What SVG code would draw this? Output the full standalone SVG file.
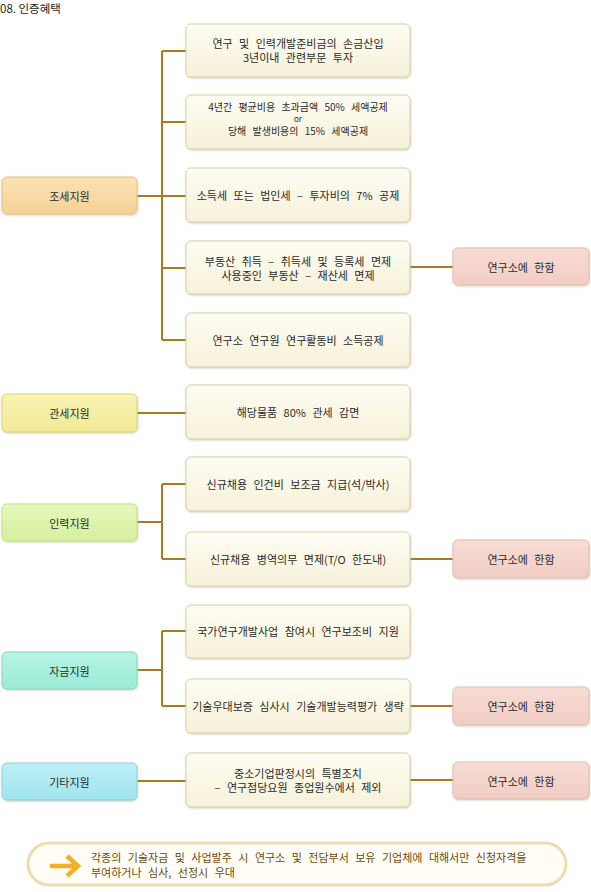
<svg xmlns="http://www.w3.org/2000/svg" width="591" height="892" viewBox="0 0 591 892">
<defs>
<linearGradient id="gMid" x1="0" y1="0" x2="0" y2="1"><stop offset="0" stop-color="#fefdf3"/><stop offset="1" stop-color="#f6f1d9"/></linearGradient>
<linearGradient id="gTax" x1="0" y1="0" x2="0" y2="1"><stop offset="0" stop-color="#fbe2b3"/><stop offset="1" stop-color="#f5d296"/></linearGradient>
<linearGradient id="gCus" x1="0" y1="0" x2="0" y2="1"><stop offset="0" stop-color="#f9f3b5"/><stop offset="1" stop-color="#f2ea95"/></linearGradient>
<linearGradient id="gHum" x1="0" y1="0" x2="0" y2="1"><stop offset="0" stop-color="#e6f8bd"/><stop offset="1" stop-color="#d5f09d"/></linearGradient>
<linearGradient id="gFund" x1="0" y1="0" x2="0" y2="1"><stop offset="0" stop-color="#b6f4e4"/><stop offset="1" stop-color="#9aebd6"/></linearGradient>
<linearGradient id="gEtc" x1="0" y1="0" x2="0" y2="1"><stop offset="0" stop-color="#bdf0f6"/><stop offset="1" stop-color="#a0e4ee"/></linearGradient>
<linearGradient id="gPink" x1="0" y1="0" x2="0" y2="1"><stop offset="0" stop-color="#f8dcd4"/><stop offset="1" stop-color="#f1cdc3"/></linearGradient>
<filter id="sh" x="-5%" y="-10%" width="110%" height="125%"><feDropShadow dx="0.5" dy="1" stdDeviation="0.8" flood-color="#a89c70" flood-opacity="0.45"/></filter>
</defs>
<style>
text{font-family:"Noto Sans CJK KR","Liberation Sans",sans-serif;font-size:11px;fill:#2a2a2a;text-anchor:middle;dominant-baseline:central;word-spacing:4px}
.mid{fill:url(#gMid);stroke:#d8d0b0;stroke-width:1;filter:url(#sh)}
.left{stroke-width:1;filter:url(#sh)}
.pink{fill:url(#gPink);stroke:#e2bdb3;stroke-width:1;filter:url(#sh)}
.con{stroke:#a87c1c;stroke-width:2;fill:none}
.title{text-anchor:start;font-size:11.5px;fill:#222;word-spacing:0}
.note{text-anchor:start;fill:#6e4a08}
.sm{font-size:10px}
.or{font-size:8px}
</style>
<text class="title" x="0" y="8">08. 인증혜택</text>

<g id="connectors">
<path class="con" d="M137 196 H186 M162 51 V340 M162 51 H186 M162 122 H186 M162 268 H186 M162 340 H186"/>
<path class="con" d="M410 267 H453"/>
<path class="con" d="M137 413 H186"/>
<path class="con" d="M137 522 H162 M162 484 V559 M162 484 H186 M162 559 H186 M410 559 H453"/>
<path class="con" d="M137 670 H162 M162 631 V706 M162 631 H186 M162 706 H186 M410 706 H453"/>
<path class="con" d="M137 781 H186 M410 780 H453"/>
</g>

<g id="n-tax"><rect class="left" x="2" y="177" width="135" height="37" rx="5" fill="url(#gTax)" stroke="#e6c486"/><text x="69.5" y="196">조세지원</text></g>
<g id="n-customs"><rect class="left" x="2" y="394" width="135" height="38" rx="5" fill="url(#gCus)" stroke="#dcd47e"/><text x="69.5" y="413">관세지원</text></g>
<g id="n-human"><rect class="left" x="2" y="504" width="135" height="37" rx="5" fill="url(#gHum)" stroke="#c2de8a"/><text x="69.5" y="522.5">인력지원</text></g>
<g id="n-fund"><rect class="left" x="2" y="652" width="135" height="37" rx="5" fill="url(#gFund)" stroke="#86d8c2"/><text x="69.5" y="670.5">자금지원</text></g>
<g id="n-etc"><rect class="left" x="2" y="763" width="135" height="37" rx="5" fill="url(#gEtc)" stroke="#8ed2dc"/><text x="69.5" y="781.5">기타지원</text></g>

<g id="m1"><rect class="mid" x="186" y="24" width="224" height="53" rx="5"/><text x="298" y="42.5">연구 및 인력개발준비금의 손금산입</text><text x="298" y="57">3년이내 관련부문 투자</text></g>
<g id="m2"><rect class="mid" x="186" y="95" width="224" height="54" rx="5"/><text class="sm" x="298" y="106">4년간 평균비용 초과금액 50% 세액공제</text><text class="or" x="298" y="118">or</text><text class="sm" x="298" y="130.5">당해 발생비용의 15% 세액공제</text></g>
<g id="m3"><rect class="mid" x="186" y="168" width="224" height="54" rx="5"/><text x="298" y="195">소득세 또는 법인세 – 투자비의 7% 공제</text></g>
<g id="m4"><rect class="mid" x="186" y="241" width="224" height="53" rx="5"/><text x="298" y="260.5">부동산 취득 – 취득세 및 등록세 면제</text><text x="298" y="275">사용중인 부동산 – 재산세 면제</text></g>
<g id="m5"><rect class="mid" x="186" y="313" width="224" height="54" rx="5"/><text x="298" y="340">연구소 연구원 연구활동비 소득공제</text></g>
<g id="m6"><rect class="mid" x="186" y="385" width="224" height="54" rx="5"/><text x="298" y="412">해당물품 80% 관세 감면</text></g>
<g id="m7"><rect class="mid" x="186" y="457" width="224" height="54" rx="5"/><text x="298" y="484">신규채용 인건비 보조금 지급(석/박사)</text></g>
<g id="m8"><rect class="mid" x="186" y="532" width="224" height="54" rx="5"/><text x="298" y="559">신규채용 병역의무 면제(T/O 한도내)</text></g>
<g id="m9"><rect class="mid" x="186" y="605" width="224" height="53" rx="5"/><text x="298" y="631">국가연구개발사업 참여시 연구보조비 지원</text></g>
<g id="m10"><rect class="mid" x="186" y="679" width="224" height="54" rx="5"/><text x="298" y="706">기술우대보증 심사시 기술개발능력평가 생략</text></g>
<g id="m11"><rect class="mid" x="186" y="753" width="224" height="54" rx="5"/><text x="298" y="772.5">중소기업판정시의 특별조치</text><text x="298" y="787">– 연구점당요원 종업원수에서 제외</text></g>

<g id="p1"><rect class="pink" x="453" y="248" width="136" height="37" rx="5"/><text x="521" y="266.5">연구소에 한함</text></g>
<g id="p2"><rect class="pink" x="453" y="540" width="136" height="38" rx="5"/><text x="521" y="559">연구소에 한함</text></g>
<g id="p3"><rect class="pink" x="453" y="687" width="136" height="38" rx="5"/><text x="521" y="706">연구소에 한함</text></g>
<g id="p4"><rect class="pink" x="453" y="762" width="136" height="37" rx="5"/><text x="521" y="780.5">연구소에 한함</text></g>

<g id="note">
<rect x="28" y="843" width="538" height="42" rx="21" fill="#fffdf6" stroke="#ecdcb0" stroke-width="3"/>
<path d="M50 866 H77 M67 856 L78 866 L67 876" stroke="#f2b02a" stroke-width="4.5" fill="none" stroke-linejoin="miter"/>
<text class="note" x="91" y="857">각종의 기술자금 및 사업발주 시 연구소 및 전담부서 보유 기업체에 대해서만 신청자격을</text>
<text class="note" x="91" y="871.5">부여하거나 심사, 선정시 우대</text>
</g>
</svg>
